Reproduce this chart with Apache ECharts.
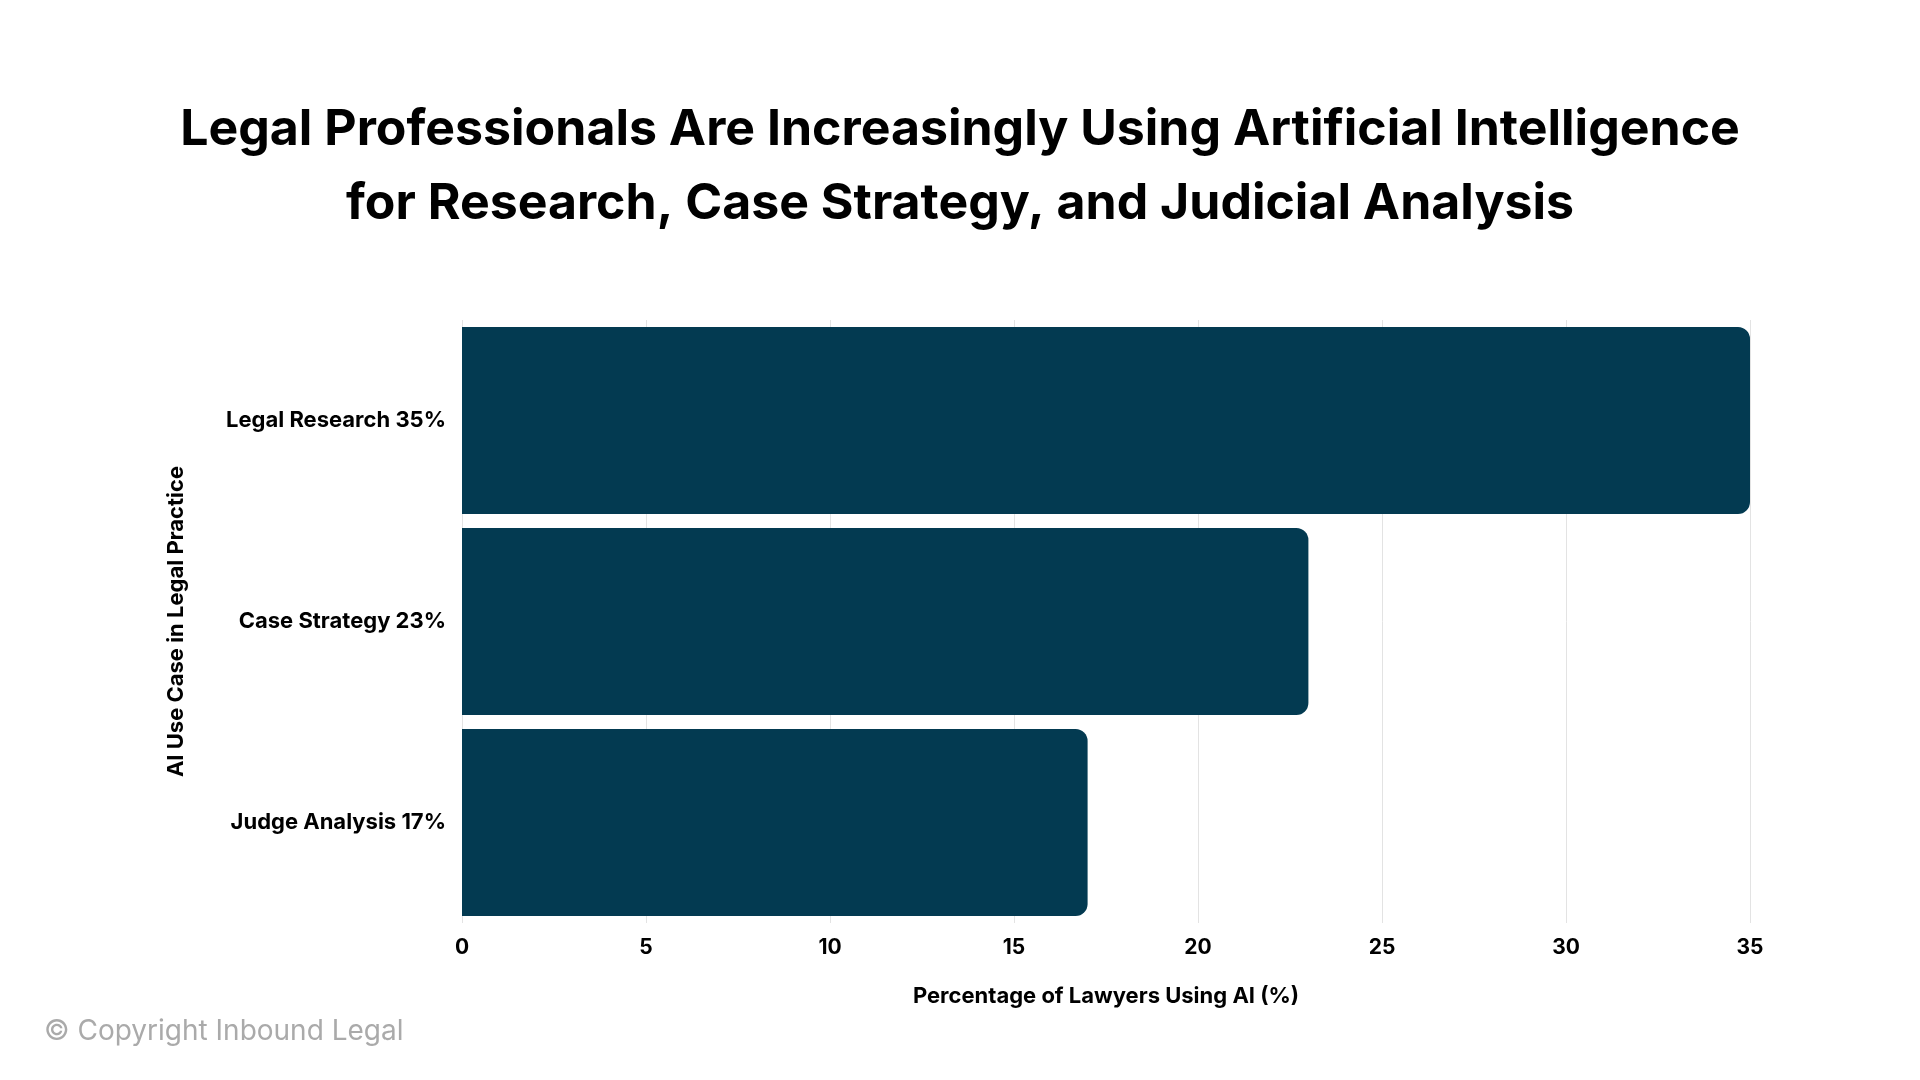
<!DOCTYPE html><html><head><meta charset="utf-8"><script src="https://cdn.jsdelivr.net/npm/echarts@6/dist/echarts.min.js"></script>
<style>body{margin:0;background:#fff}#c{width:1920px;height:1080px}</style></head><body><div id="c"></div><script>
const categories=['Judge Analysis 17%','Case Strategy 23%','Legal Research 35%'];
const values=[17,23,35];
const F='Inter';
const ch=echarts.init(document.getElementById('c'));
ch.setOption({backgroundColor:'#fff',
title:{text:'Legal Professionals Are Increasingly Using Artificial Intelligence\nfor Research, Case Strategy, and Judicial Analysis',left:'center',top:88,textStyle:{fontFamily:F,fontWeight:'bold',fontSize:50,lineHeight:74,color:'#000'}},
graphic:[{type:'text',left:44,top:1018,style:{text:'© Copyright Inbound Legal',fontFamily:F,fontSize:28,fill:'#aaaaaa'}}],
grid:{left:462,right:170,top:320,bottom:157},
xAxis:{type:'value',min:0,max:35,interval:5,axisLine:{show:false},axisTick:{show:false},
 splitLine:{lineStyle:{color:'#e3e3e3'}},axisLabel:{fontFamily:F,fontWeight:'bold',fontSize:21,color:'#000',margin:14},
 name:'Percentage of Lawyers Using AI (%)',nameLocation:'middle',nameGap:62,nameTextStyle:{fontFamily:F,fontWeight:'bold',fontSize:22,color:'#000'}},
yAxis:{type:'category',data:categories,axisLine:{show:false},axisTick:{show:false},
 axisLabel:{fontFamily:F,fontWeight:'bold',fontSize:22,color:'#000',margin:16},
 name:'AI Use Case in Legal Practice',nameLocation:'middle',nameGap:275,nameRotate:90,nameTextStyle:{fontFamily:F,fontWeight:'bold',fontSize:22,color:'#000'}},
series:[{type:'bar',data:values,barCategoryGap:'7%',itemStyle:{color:'#033a51',borderRadius:[0,12,12,0]}}]
});
</script></body></html>
